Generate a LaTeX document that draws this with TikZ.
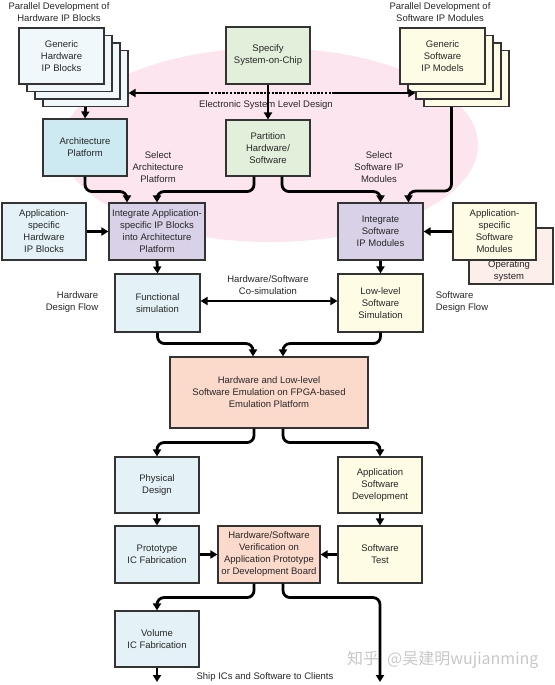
\documentclass[tikz,border=0pt]{standalone}
\usepackage{fontspec}
\setmainfont{Liberation Sans}
\newfontfamily\cjk{Noto Sans CJK SC}
\usetikzlibrary{arrows.meta,calc}
\definecolor{pinkbg}{HTML}{FCE5EF}
\definecolor{hwpale}{HTML}{F1F8FB}
\definecolor{hwblue}{HTML}{E4F2F7}
\definecolor{archblue}{HTML}{CDE9F1}
\definecolor{green1}{HTML}{E2F0DB}
\definecolor{lav}{HTML}{D8D1E7}
\definecolor{yel}{HTML}{FEFCE5}
\definecolor{peach}{HTML}{FBD9CB}
\definecolor{ospeach}{HTML}{FCEEE8}
\begin{document}
\begin{tikzpicture}[x=1pt,y=-1pt,
  box/.style={draw=black!80, line width=1.1pt, align=center, inner sep=1pt,
    font=\fontsize{9.5}{12}\selectfont, text=black!85},
  lbl/.style={align=center, font=\fontsize{9.5}{12}\selectfont, text=black!85},
  tip/.tip={Triangle[length=7pt,width=8pt]},
  conn/.style={line width=2.8pt, -tip, rounded corners=7pt},
  thickline/.style={line width=2.8pt}]
\useasboundingbox (0,0) rectangle (554,685);
\fill[pinkbg] (270,145) ellipse [x radius=208pt, y radius=97pt];

% hardware IP stack
\node[box, fill=hwpale, minimum width=85pt, minimum height=56pt] (hw4) at (85.5,78.5) {};
\node[box, fill=hwpale, minimum width=85pt, minimum height=56pt] (hw3) at (77.5,71) {};
\node[box, fill=hwpale, minimum width=85pt, minimum height=56pt] (hw2) at (69.5,63.5) {};
\node[box, fill=hwpale, minimum width=85pt, minimum height=56pt] (hw1) at (61.5,56) {Generic\\Hardware\\IP Blocks};
% software IP stack
\node[box, fill=yel, minimum width=85pt, minimum height=56pt] (sw4) at (466.5,78.5) {};
\node[box, fill=yel, minimum width=85pt, minimum height=56pt] (sw3) at (458.5,71) {};
\node[box, fill=yel, minimum width=85pt, minimum height=56pt] (sw2) at (450.5,63.5) {};
\node[box, fill=yel, minimum width=85pt, minimum height=56pt] (sw1) at (442.5,56) {Generic\\Software\\IP Models};

\node[box, fill=green1, minimum width=84pt, minimum height=57pt] (spec) at (268,55.5) {Specify\\System-on-Chip};
\node[box, fill=green1, minimum width=84pt, minimum height=56pt] (part) at (268,148) {Partition\\Hardware/\\Software};
\node[box, fill=archblue, minimum width=84pt, minimum height=57pt] (arch) at (85,147.5) {Architecture\\Platform};

\node[box, fill=lav, minimum width=96pt, minimum height=57pt] (intapp) at (157,231.5) {Integrate Application-\\specific IP Blocks\\into Architecture\\Platform};
\node[box, fill=hwblue, minimum width=84pt, minimum height=57pt] (apphw) at (44,231.5) {Application-\\specific\\Hardware\\IP Blocks};
\node[box, fill=lav, minimum width=85pt, minimum height=57pt] (intsw) at (380.5,231.5) {Integrate\\Software\\IP Modules};
\node[box, fill=ospeach, minimum width=84pt, minimum height=56pt] (os) at (511,256) {};
\node[lbl] (ostext) at (509,271) {Operating\\system};
\node[box, fill=yel, minimum width=83pt, minimum height=57pt] (appsw) at (494.5,231.5) {Application-\\specific\\Software\\Modules};

\node[box, fill=hwblue, minimum width=85pt, minimum height=58pt] (func) at (157.5,303) {Functional\\simulation};
\node[box, fill=yel, minimum width=85pt, minimum height=58pt] (low) at (380.5,303) {Low-level\\Software\\Simulation};
\node[box, fill=peach, minimum width=198pt, minimum height=71pt] (emu) at (269,392.5) {Hardware and Low-level\\Software Emulation on FPGA-based\\Emulation Platform};

\node[box, fill=hwblue, minimum width=84pt, minimum height=56pt] (phys) at (157,485) {Physical\\Design};
\node[box, fill=yel, minimum width=84pt, minimum height=56pt] (appdev) at (380,485) {Application\\Software\\Development};
\node[box, fill=hwblue, minimum width=84pt, minimum height=57pt] (proto) at (157,554.5) {Prototype\\IC Fabrication};
\node[box, fill=peach, minimum width=102pt, minimum height=57pt] (verif) at (269,554.5) {Hardware/Software\\Verification on\\Application Prototype\\or Development Board};
\node[box, fill=yel, minimum width=84pt, minimum height=57pt] (swtest) at (380,554.5) {Software\\Test};
\node[box, fill=hwblue, minimum width=84pt, minimum height=56pt] (vol) at (157,639) {Volume\\IC Fabrication};

% labels
\node[lbl] (t1) at (59,12) {Parallel Development of\\Hardware IP Blocks};
\node[lbl] (t2) at (440,12) {Parallel Development of\\Software IP Modules};
\node[lbl] (esl) at (266,105) {Electronic System Level Design};
\node[lbl] (selarch) at (158,167) {Select\\Architecture\\Platform};
\node[lbl] (selsw) at (379,167) {Select\\Software IP\\Modules};
\node[lbl, align=right] (hwflow) at (72,302) {Hardware\\Design Flow};
\node[lbl] (cosim) at (268,285) {Hardware/Software\\Co-simulation};
\node[lbl, align=left] (swflow) at (462,302) {Software\\Design Flow};
\node[lbl] (ship) at (265,677) {Ship ICs and Software to Clients};
\node[text=black!22, font=\cjk\fontsize{16}{18}\selectfont, anchor=west, inner sep=0pt] (wm) at (347,660) {知乎\hspace{8pt}@吴建明wujianming};

% ESL line
\coordinate (eslA) at (207,93);
\coordinate (eslB) at (333,93);
\draw[thickline, tip-] (hw4.east |- eslA) -- (eslA);
\draw[line width=2.4pt, dash pattern=on 2.4pt off 1.4pt] (eslA) -- (eslB);
\draw[thickline, -tip] (eslB) -- (sw3.west |- eslB);

% connectors
\draw[conn] (hw4.south) -- (arch.north);
\draw[conn] (spec.south) -- (part.north);
\draw[conn] (arch.south) -- ++(0,15) -| ([xshift=-30pt]intapp.north);
\draw[conn] ([xshift=-14pt]part.south) -- ++(0,15) -| (intapp.north);
\draw[conn] ([xshift=14pt]part.south) -- ++(0,15) -| (intsw.north);
\draw[conn] ([xshift=-15pt]sw4.south) -- ++(0,84) -| ([xshift=28pt]intsw.north);
\draw[conn] (apphw.east) -- (intapp.west);
\draw[conn] (appsw.west) -- (intsw.east);
\draw[conn] (intapp.south) -- (func.north);
\draw[conn] (intsw.south) -- (low.north);
\draw[line width=2.8pt, tip-tip] ([yshift=2pt]func.east) -- ([yshift=2pt]low.west);
\draw[conn] (func.south) -- ++(0,11) -| ([xshift=-16pt]emu.north);
\draw[conn] (low.south) -- ++(0,11) -| ([xshift=14pt]emu.north);
\draw[conn] ([xshift=-15pt]emu.south) -- ++(0,14) -| (phys.north);
\draw[conn] ([xshift=14pt]emu.south) -- ++(0,14) -| (appdev.north);
\draw[conn] (phys.south) -- (proto.north);
\draw[conn] (appdev.south) -- (swtest.north);
\draw[conn] (proto.east) -- (verif.west);
\draw[conn] (swtest.west) -- (verif.east);
\draw[conn] ([xshift=-15pt]verif.south) -- ++(0,14) -| (vol.north);
\coordinate (shipend) at (380,682);
\coordinate (volend) at (157,682);
\draw[conn] ([xshift=14pt]verif.south) -- ++(0,14) -| (shipend);
\draw[conn] (vol.south) -- (volend);
\end{tikzpicture}
\end{document}
